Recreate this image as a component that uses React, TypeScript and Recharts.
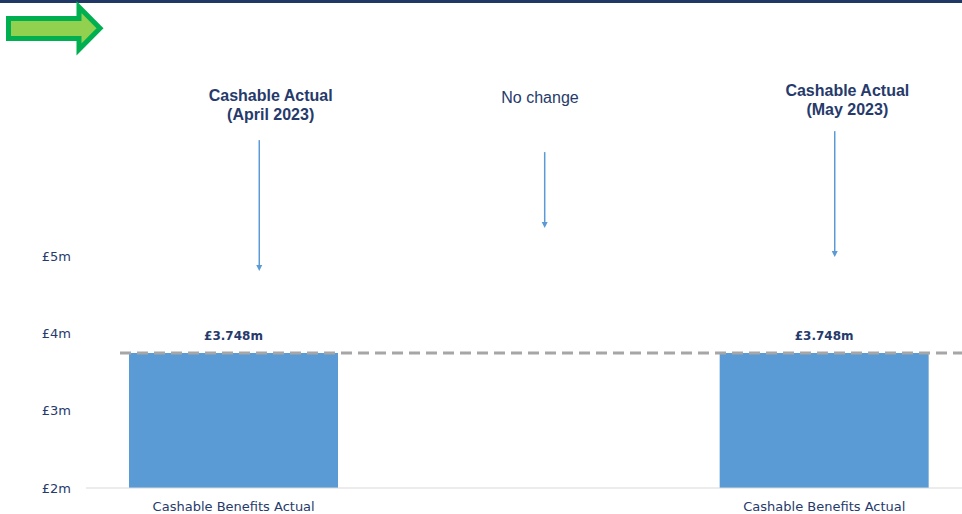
import React from 'react';
import {
  ComposedChart,
  Bar,
  XAxis,
  YAxis,
  ReferenceLine,
  ReferenceDot,
  LabelList,
} from 'recharts';

// ---- data ----
const categoryKeys = ['apr', 'nc', 'may'];
const tickLabels = ['Cashable Benefits Actual', '', 'Cashable Benefits Actual'];
const actualValues: (number | null)[] = [3.748, null, 3.748];
const yTicks = [2, 3, 4, 5];
const baselineValue = 3.748;

const annotationLines = [
  ['Cashable Actual', '(April 2023)'],
  ['No change'],
  ['Cashable Actual', '(May 2023)'],
];
const annotationBold = [true, false, true];
const annotationTextValue = [7.084, 7.052, 7.142];
const arrowTop = [6.502, 6.347, 6.618];
const arrowBottom = [4.807, 5.364, 4.988];

// ---- style offsets (pixels) ----
const textDx = [37, 11, 23];
const arrowDx = [25.6, 15.7, 10.4];

const NAVY = '#263a6b';
const BLUE = '#5b9bd5';

const data = categoryKeys.map((k, i) => ({
  key: k,
  label: tickLabels[i],
  value: actualValues[i],
}));

const makeArrowShape = (i: number) => (props: any) => {
  const x = props.x1 + arrowDx[i];
  const y1 = props.y1;
  const y2 = props.y2;
  return (
    <g>
      <line x1={x} y1={y1} x2={x} y2={y2 - 5} stroke={BLUE} strokeWidth={1.5} />
      <polygon points={`${x - 3},${y2 - 6} ${x + 3},${y2 - 6} ${x},${y2}`} fill={BLUE} />
    </g>
  );
};

const makeTextShape = (i: number) => (props: any) => {
  const x = props.cx + textDx[i];
  const y = props.cy + 5.8;
  return (
    <text
      x={x}
      y={y}
      textAnchor="middle"
      fill={NAVY}
      style={{
        fontFamily: '"Liberation Sans", Arial, sans-serif',
        fontSize: 16,
        fontWeight: annotationBold[i] ? 700 : 400,
      }}
    >
      {annotationLines[i].map((ln, j) => (
        <tspan key={j} x={x} dy={j === 0 ? 0 : 19}>
          {ln}
        </tspan>
      ))}
    </text>
  );
};

const dashedShape = (props: any) => (
  <line
    x1={props.x1 + 34}
    y1={props.y1}
    x2={props.x2}
    y2={props.y2}
    stroke="#a6a6a6"
    strokeWidth={3}
    strokeDasharray="11 6"
  />
);

export default function App() {
  return (
    <div
      style={{
        position: 'absolute',
        left: 0,
        top: 0,
        width: 962,
        height: 514,
        overflow: 'hidden',
        background: '#ffffff',
      }}
    >
      <div style={{ position: 'absolute', left: 0, top: 0, width: 962, height: 3, background: '#1f3864' }} />
      <svg style={{ position: 'absolute', left: 0, top: 0 }} width={120} height={60}>
        <polygon
          points="8.5,18.5 79,18.5 79,7 100,28.3 79,49.5 79,38.5 8.5,38.5"
          fill="#92d050"
          stroke="#00b050"
          strokeWidth={5}
          strokeLinejoin="miter"
        />
      </svg>
      <div style={{ position: 'absolute', left: 0, top: 0 }}>
        <ComposedChart
          width={980}
          height={514}
          data={data}
          margin={{ top: 63, right: 8, left: 0, bottom: 0 }}
          barCategoryGap={0}
        >
          <XAxis
            dataKey="key"
            height={26}
            tickLine={false}
            axisLine={{ stroke: '#d9d9d9', strokeWidth: 1 }}
            tickMargin={8}
            interval={0}
            tickFormatter={(v: string) => tickLabels[categoryKeys.indexOf(v)]}
            tick={{ fill: NAVY, fontSize: 13, fontFamily: '"DejaVu Sans", sans-serif' }}
          />
          <YAxis
            width={86}
            domain={[2, 7.5]}
            ticks={yTicks}
            allowDataOverflow
            axisLine={false}
            tickLine={false}
            tickMargin={9}
            tickFormatter={(v: number) => `£${v}m`}
            tick={{ fill: NAVY, fontSize: 13, fontFamily: '"DejaVu Sans", sans-serif' }}
          />
          <Bar dataKey="value" fill={BLUE} barSize={209} isAnimationActive={false}>
            <LabelList
              dataKey="value"
              position="top"
              offset={13}
              formatter={(v: any) => (v == null ? '' : `£${Number(v).toFixed(3)}m`)}
              style={{
                fill: NAVY,
                fontSize: 12,
                fontWeight: 700,
                fontFamily: '"DejaVu Sans", sans-serif',
              }}
            />
          </Bar>
          <ReferenceLine y={baselineValue} shape={dashedShape} ifOverflow="visible" />
          {categoryKeys.map((k, i) => (
            <ReferenceLine
              key={`arrow-${k}`}
              segment={[
                { x: k, y: arrowTop[i] },
                { x: k, y: arrowBottom[i] },
              ]}
              shape={makeArrowShape(i)}
              ifOverflow="visible"
            />
          ))}
          {categoryKeys.map((k, i) => (
            <ReferenceDot
              key={`text-${k}`}
              x={k}
              y={annotationTextValue[i]}
              r={0}
              shape={makeTextShape(i)}
              ifOverflow="visible"
            />
          ))}
        </ComposedChart>
      </div>
    </div>
  );
}
